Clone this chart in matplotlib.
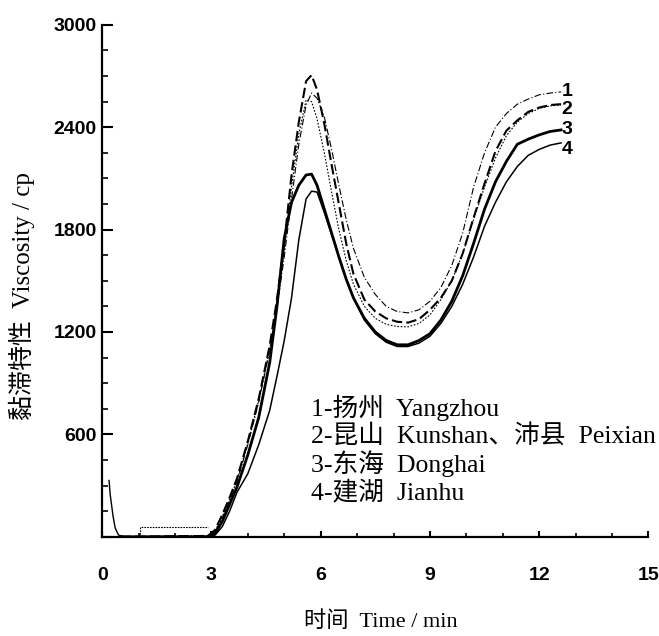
import matplotlib
matplotlib.use('Agg')
from matplotlib import pyplot as plt
from matplotlib.ticker import MultipleLocator

# time grid (min) shared by the four RVA curves
time_min = [0.5, 2.9, 3.1, 3.3, 3.5, 3.7, 4.0, 4.3, 4.6, 4.8, 5.0, 5.2, 5.4, 5.6,
            5.75, 5.9, 6.1, 6.3, 6.5, 6.7, 6.9, 7.2, 7.5, 7.8, 8.1, 8.4, 8.7, 9.0,
            9.3, 9.6, 9.9, 10.2, 10.5, 10.8, 11.1, 11.4, 11.7, 12.0, 12.3, 12.6]

# 1 - Yangzhou
visc_1 = [0, 5, 30, 110, 210, 320, 540, 790, 1090, 1340, 1640, 1980, 2300, 2530,
          2600, 2570, 2460, 2270, 2060, 1860, 1690, 1520, 1420, 1350, 1320, 1312, 1330, 1380,
          1460, 1590, 1780, 2050, 2250, 2400, 2480, 2535, 2565, 2590, 2600, 2607]
# 2 - Kunshan
visc_2a = [0, 5, 40, 130, 230, 340, 560, 810, 1120, 1390, 1720, 2120, 2430, 2670,
           2705, 2620, 2420, 2180, 1950, 1720, 1540, 1390, 1320, 1280, 1260, 1255, 1275, 1330,
           1400, 1500, 1660, 1870, 2070, 2260, 2380, 2440, 2490, 2515, 2530, 2535]
# 2 - Peixian
visc_2b = [0, 5, 35, 120, 220, 330, 550, 800, 1100, 1360, 1680, 2050, 2360, 2560,
           2550, 2450, 2250, 2020, 1800, 1620, 1480, 1350, 1280, 1245, 1232, 1230, 1250, 1300,
           1390, 1500, 1660, 1860, 2050, 2220, 2350, 2430, 2480, 2510, 2525, 2530]
# 3 - Donghai
visc_3 = [0, 0, 20, 90, 190, 290, 480, 700, 1020, 1350, 1750, 1960, 2060, 2120,
          2125, 2060, 1920, 1780, 1640, 1510, 1400, 1280, 1200, 1150, 1125, 1125, 1150, 1190,
          1270, 1380, 1530, 1720, 1920, 2080, 2200, 2300, 2330, 2355, 2375, 2384]
# 4 - Jianhu
visc_4 = [0, 0, 10, 60, 150, 260, 370, 540, 740, 940, 1150, 1400, 1740, 1980,
          2025, 2020, 1900, 1770, 1640, 1510, 1400, 1270, 1190, 1140, 1115, 1115, 1135, 1175,
          1250, 1350, 1480, 1640, 1820, 1960, 2080, 2170, 2235, 2270, 2295, 2308]

# start of the trace (spike at t=0 and the short step before heating)
start_t = [0.19, 0.22, 0.3, 0.36, 0.45, 0.6]
start_v = [330, 250, 120, 50, 10, 0]
step_t = [1.05, 1.05, 2.9]
step_v = [0, 58, 58]

end_labels = ['1', '2', '3', '4']
end_values = [2607, 2501, 2384, 2267]

legend_lines = ['1-扬州  Yangzhou',
                '2-昆山  Kunshan、沛县  Peixian',
                '3-东海  Donghai',
                '4-建湖  Jianhu']

x_ticks = [0, 3, 6, 9, 12, 15]
y_ticks = [0, 600, 1200, 1800, 2400, 3000]
y_ticklabels = ['', '600', '1200', '1800', '2400', '3000']

mixed = ['Liberation Serif', 'Noto Sans CJK SC']


def main():
    fig = plt.figure(figsize=(6.59, 6.36), dpi=100)
    ax = fig.add_axes([0.155, 0.156, 0.829, 0.805])

    ax.plot(time_min, visc_1, color='black', lw=0.8, dashes=(6, 2, 1, 2))
    ax.plot(time_min, visc_2a, color='black', lw=1.5, dashes=(5, 2))
    ax.plot(time_min, visc_2b, color='black', lw=0.8, dashes=(1.5, 1.5))
    ax.plot(time_min, visc_3, color='black', lw=2.0)
    ax.plot(time_min, visc_4, color='black', lw=1.1)
    ax.plot(start_t, start_v, color='black', lw=1.0)
    ax.plot(step_t, step_v, color='black', lw=0.8, dashes=(1.5, 1))

    for lab, v in zip(end_labels, end_values):
        ax.text(12.62, v, lab, fontsize=14, fontweight='bold',
                family='Liberation Sans', va='center', ha='left')

    for i, line in enumerate(legend_lines):
        ax.text(0.383, 0.252 - i * 0.055, line, transform=ax.transAxes,
                fontsize=18.5, family=mixed, va='center', ha='left')

    ax.set_xlim(0, 15)
    ax.set_ylim(0, 3000)
    ax.set_xticks(x_ticks)
    ax.set_yticks(y_ticks)
    ax.set_yticklabels(y_ticklabels)
    ax.xaxis.set_minor_locator(MultipleLocator(1))
    ax.yaxis.set_minor_locator(MultipleLocator(150))

    for lab in ax.get_xticklabels() + ax.get_yticklabels():
        lab.set_fontfamily('Liberation Sans')
        lab.set_fontweight('bold')
        lab.set_fontsize(14)

    ax.tick_params(axis='y', which='major', direction='in', length=8, width=1.5, pad=4)
    ax.tick_params(axis='y', which='minor', direction='in', length=4, width=1.2)
    ax.tick_params(axis='x', which='major', direction='in', length=4, width=1.5, pad=22)
    ax.tick_params(axis='x', which='minor', direction='in', length=3, width=1.2)

    for s in ['top', 'right']:
        ax.spines[s].set_visible(False)
    for s in ['left', 'bottom']:
        ax.spines[s].set_linewidth(1.6)

    fig.text(0.578, 0.022, '时间  Time / min', fontsize=16, family=mixed,
             ha='center', va='center')
    fig.text(0.033, 0.535, '黏滞特性  Viscosity / cp', fontsize=18, family=mixed,
             rotation=90, ha='center', va='center')

    fig.savefig('out.png', dpi=100)


if __name__ == '__main__':
    main()
